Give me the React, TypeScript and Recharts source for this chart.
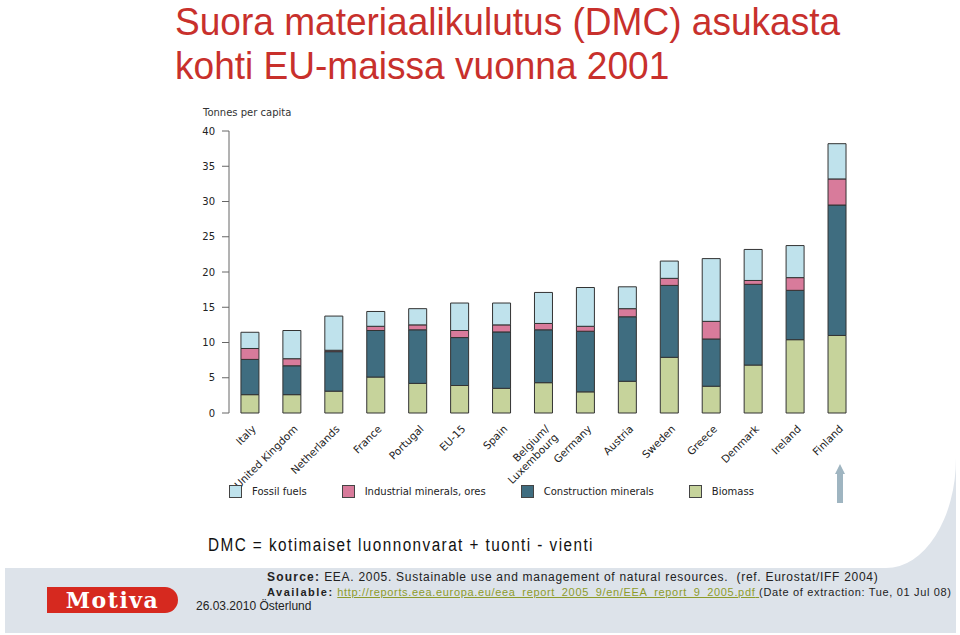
import { Bar, BarChart, XAxis, YAxis } from "recharts";

const countries = [
  "Italy",
  "United Kingdom",
  "Netherlands",
  "France",
  "Portugal",
  "EU-15",
  "Spain",
  "Belgium/Luxembourg",
  "Germany",
  "Austria",
  "Sweden",
  "Greece",
  "Denmark",
  "Ireland",
  "Finland",
];

// tonnes per capita
const biomass = [2.6, 2.6, 3.1, 5.1, 4.2, 3.9, 3.5, 4.3, 3.0, 4.5, 7.9, 3.8, 6.8, 10.4, 11.0];
const construction = [5.0, 4.1, 5.6, 6.6, 7.6, 6.8, 8.0, 7.5, 8.6, 9.15, 10.2, 6.7, 11.45, 7.0, 18.5];
const industrial = [1.55, 1.0, 0.2, 0.6, 0.7, 1.0, 1.0, 0.9, 0.7, 1.15, 1.0, 2.5, 0.55, 1.8, 3.7];
const fossil = [2.3, 4.0, 4.85, 2.1, 2.3, 3.9, 3.1, 4.4, 5.5, 3.1, 2.45, 8.9, 4.4, 4.55, 5.0];

const yTicks = [0, 5, 10, 15, 20, 25, 30, 35, 40];
const edgeTicks = countries.map((_, i) => i).concat(countries.length);

const series = [
  { key: "fossil", name: "Fossil fuels", color: "#bfe2ec" },
  { key: "industrial", name: "Industrial minerals, ores", color: "#d87b9b" },
  { key: "construction", name: "Construction minerals", color: "#3f6d80" },
  { key: "biomass", name: "Biomass", color: "#c6d39b" },
];
const stackOrder = ["biomass", "construction", "industrial", "fossil"];

const data = countries.map((country, i) => ({
  country,
  biomass: biomass[i],
  construction: construction[i],
  industrial: industrial[i],
  fossil: fossil[i],
}));

const axisFont = "'DejaVu Sans', Verdana, sans-serif";

function CountryTick({ x, y, payload }: any) {
  const label = String(payload.value);
  const lines = label.includes("/") ? [label.split("/")[0] + "/", label.split("/")[1]] : [label];
  return (
    <g transform={`translate(${x + 4},${y + 6})`}>
      <text transform="rotate(-45)" textAnchor="end" fontSize={10.5} fill="#222" fontFamily={axisFont}>
        {lines.map((l, i) => (
          <tspan key={l} x={0} dy={i === 0 ? "0.35em" : "1.15em"}>
            {l}
          </tspan>
        ))}
      </text>
    </g>
  );
}

export default function App() {
  const colorOf = (k: string) => series.find((s) => s.key === k)!.color;
  return (
    <div
      style={{
        position: "absolute",
        left: 0,
        top: 0,
        width: 960,
        height: 635,
        overflow: "hidden",
        background: "#fff",
        fontFamily: "'Liberation Sans', Arial, sans-serif",
      }}
    >
      <div style={{ position: "absolute", left: 5, top: 440, width: 951, height: 193, background: "#dde3ea" }} />
      <div
        style={{
          position: "absolute",
          left: 0,
          top: 0,
          width: 956,
          height: 568,
          background: "#fff",
          borderBottomRightRadius: "70px 110px",
        }}
      />

      <div
        style={{
          position: "absolute",
          left: 175,
          top: 0,
          fontSize: 39,
          lineHeight: "44px",
          color: "#c8302c",
          whiteSpace: "nowrap",
          transform: "scaleX(0.95)",
          transformOrigin: "0 0",
        }}
      >
        Suora materiaalikulutus (DMC) asukasta
        <br />
        kohti EU-maissa vuonna 2001
      </div>

      <div
        style={{
          position: "absolute",
          left: 203,
          top: 107,
          fontSize: 10,
          fontFamily: axisFont,
          color: "#333",
          whiteSpace: "nowrap",
        }}
      >
        Tonnes per capita
      </div>

      <div style={{ position: "absolute", left: 100, top: 100 }}>
        <BarChart
          width={780}
          height={400}
          data={data}
          margin={{ top: 31, right: 22, bottom: 0, left: 0 }}
          barCategoryGap="28.5%"
        >
          <XAxis
            xAxisId="edges"
            type="number"
            domain={[0, countries.length]}
            ticks={edgeTicks}
            tick={false}
            height={0}
            tickSize={6}
            axisLine={{ stroke: "#666" }}
            tickLine={{ stroke: "#666" }}
          />
          <XAxis
            dataKey="country"
            interval={0}
            height={87}
            axisLine={false}
            tickLine={false}
            tick={<CountryTick />}
          />
          <YAxis
            width={129}
            domain={[0, 40]}
            ticks={yTicks}
            interval={0}
            tickSize={7}
            tickMargin={7}
            axisLine={{ stroke: "#666" }}
            tickLine={{ stroke: "#666" }}
            tick={{ fill: "#222", fontSize: 10, fontFamily: axisFont }}
          />
          {stackOrder.map((k) => (
            <Bar
              key={k}
              dataKey={k}
              stackId="dmc"
              fill={colorOf(k)}
              stroke="#333"
              strokeWidth={1}
              isAnimationActive={false}
            />
          ))}
        </BarChart>
      </div>

      <div
        style={{
          position: "absolute",
          left: 229,
          top: 485,
          display: "flex",
          alignItems: "center",
          fontSize: 10,
          fontFamily: axisFont,
          color: "#222",
          whiteSpace: "nowrap",
        }}
      >
        {series.map((s) => (
          <div key={s.key} style={{ display: "flex", alignItems: "center", marginRight: 35 }}>
            <div
              style={{
                width: 11,
                height: 11,
                background: s.color,
                border: "1px solid #444",
                marginRight: 10,
              }}
            />
            {s.name}
          </div>
        ))}
      </div>

      <svg style={{ position: "absolute", left: 830, top: 460 }} width={20} height={46}>
        <polygon points="10,4 15,14 13,14 13,43 7,43 7,14 5,14" fill="#9fb5c1" />
      </svg>

      <div
        style={{
          position: "absolute",
          left: 208,
          top: 535,
          fontSize: 18,
          letterSpacing: 1.7,
          color: "#111",
          whiteSpace: "nowrap",
          transform: "scaleX(0.85)",
          transformOrigin: "0 0",
        }}
      >
        DMC = kotimaiset luonnonvarat + tuonti - vienti
      </div>

      <div
        style={{
          position: "absolute",
          left: 267,
          top: 570,
          letterSpacing: 0.6,
          lineHeight: "15px",
          color: "#222",
          whiteSpace: "nowrap",
        }}
      >
        <div style={{ fontSize: 12, letterSpacing: 0.72 }}>
          <b style={{ letterSpacing: 1.2 }}>Source:</b> EEA. 2005. Sustainable use and management of natural
          resources.&nbsp; (ref. Eurostat/IFF 2004)
        </div>
        <div style={{ fontSize: 11, letterSpacing: 0.66 }}>
          <b style={{ letterSpacing: 1.5 }}>Available:</b>{" "}
          <span style={{ color: "#8d9b2a", textDecoration: "underline" }}>
            http://reports.eea.europa.eu/eea_report_2005_9/en/EEA_report_9_2005.pdf{" "}
          </span>{" "}
          (Date of extraction: Tue, 01 Jul 08)
        </div>
      </div>

      <div
        style={{
          position: "absolute",
          left: 47,
          top: 587,
          width: 131,
          height: 26,
          background: "#d6291f",
          borderRadius: "0 13px 13px 0",
          color: "#fff",
          fontFamily: "'DejaVu Serif', serif",
          fontWeight: "bold",
          fontSize: 22,
          letterSpacing: 1.5,
          lineHeight: "26px",
          textAlign: "center",
        }}
      >
        Motiva
      </div>

      <div
        style={{
          position: "absolute",
          left: 196,
          top: 599,
          fontSize: 12,
          color: "#222",
          whiteSpace: "nowrap",
        }}
      >
        26.03.2010 Österlund
      </div>
    </div>
  );
}
